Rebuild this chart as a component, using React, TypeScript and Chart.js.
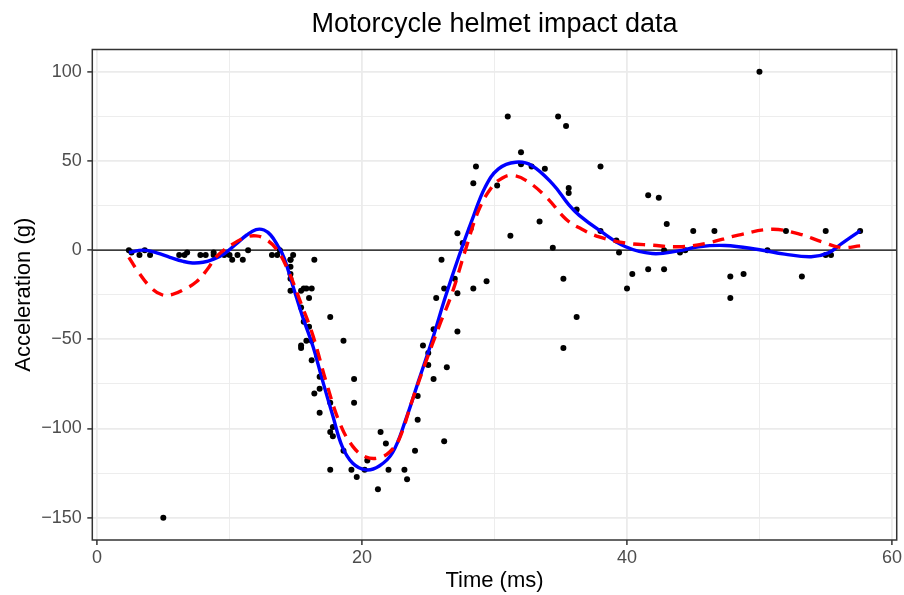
import React, { useEffect, useRef } from 'react';
import { Chart, registerables } from 'chart.js';

Chart.register(...registerables);

// mcycle data (times in ms, acceleration in g)
const times = [
  2.4, 2.6, 3.2, 3.6, 4.0, 6.2, 6.6, 6.8, 7.8, 8.2, 8.8, 8.8, 9.6, 10.0, 10.2, 10.6, 11.0, 11.4,
  13.2, 13.6, 13.8, 14.6, 14.6, 14.6, 14.6, 14.6, 14.6, 14.8, 15.4, 15.4, 15.4, 15.4, 15.6, 15.6,
  15.8, 15.8, 16.0, 16.0, 16.2, 16.2, 16.2, 16.4, 16.4, 16.6, 16.8, 16.8, 16.8, 17.6, 17.6, 17.6,
  17.6, 17.8, 17.8, 18.6, 18.6, 19.2, 19.4, 19.4, 19.6, 20.2, 20.4, 21.2, 21.4, 21.8, 22.0, 23.2,
  23.4, 24.0, 24.2, 24.2, 24.6, 25.0, 25.0, 25.4, 25.4, 25.6, 26.0, 26.2, 26.2, 26.4, 27.0, 27.2,
  27.2, 27.2, 27.6, 28.2, 28.4, 28.4, 28.6, 29.4, 30.2, 31.0, 31.2, 32.0, 32.0, 32.8, 33.4, 33.8,
  34.4, 34.8, 35.2, 35.2, 35.4, 35.6, 35.6, 36.2, 36.2, 38.0, 38.0, 39.2, 39.4, 40.0, 40.4, 41.6,
  41.6, 42.4, 42.8, 42.8, 43.0, 44.0, 44.4, 45.0, 46.6, 47.8, 47.8, 48.8, 50.6, 52.0, 53.2, 55.0,
  55.0, 55.4, 57.6,
];
const accel = [
  0.0, -1.3, -2.7, 0.0, -2.7, -2.7, -2.7, -1.3, -2.7, -2.7, -1.3, -2.7, -2.7, -2.7, -5.4, -2.7, -5.4, 0.0,
  -2.7, -2.7, 0.0, -13.3, -5.4, -5.4, -9.3, -16.0, -22.8, -2.7, -22.8, -32.1, -53.5, -54.9, -40.2, -21.5,
  -21.5, -50.8, -42.9, -26.8, -21.5, -50.8, -61.7, -5.4, -80.4, -59.0, -71.0, -91.1, -77.7, -37.5, -85.6, -123.1,
  -101.9, -99.1, -104.4, -112.5, -50.8, -123.1, -85.6, -72.3, -127.2, -123.1, -117.9, -134.0, -101.9, -108.4, -123.1, -123.1,
  -128.5, -112.5, -95.1, -81.8, -53.5, -64.4, -57.6, -72.3, -44.3, -26.8, -5.4, -107.1, -21.5, -65.6, -16.0, -45.6,
  -24.2, 9.5, 4.0, 12.0, -21.5, 37.5, 46.9, -17.4, 36.2, 75.0, 8.1, 54.9, 48.2, 46.9, 16.0, 45.6,
  1.3, 75.0, -16.0, -54.9, 69.6, 34.8, 32.1, -37.5, 22.8, 46.9, 10.7, 5.4, -1.3, -21.5, -13.3, 30.8,
  -10.7, 29.4, 0.0, -10.7, 14.7, -1.3, 0.0, 10.7, 10.7, -26.8, -14.7, -13.3, 0.0, 10.7, -14.7, -2.7,
  10.7, -2.7, 10.7,
];
// added outliers
const outlierTimes = [5.0, 50.0];
const outlierAccel = [-150, 100];

// robust fit (blue, solid)
const blueT = [2.4, 3.5, 4.5, 5.5, 6.5, 7.2, 8.0, 8.8, 9.6, 10.5, 11.3, 12.0, 12.6, 13.1, 13.6, 14.1, 14.8, 15.5, 16.3, 17.0, 17.8, 18.5, 19.3, 20.3, 21.3, 22.3, 23.3, 24.3, 25.3, 26.3, 27.3, 28.3, 29.3, 30.3, 31.6, 32.8, 34.4, 35.6, 36.4, 37.9, 39.9, 41.9, 43.9, 45.4, 47.4, 49.9, 51.9, 53.9, 55.2, 56.2, 57.6];
const blueY = [-1.3, 0, -1.5, -4, -6.3, -7.2, -6.8, -5, -2, 3.5, 8.5, 11.5, 11.3, 8.5, 3, -4, -20.5, -37, -54, -72.6, -93, -110, -119.5, -123.2, -121, -113.6, -95, -72.6, -50.3, -26, -3.7, 16.8, 35.4, 45.6, 49.3, 47.5, 37, 25.5, 19.5, 11.2, 1.9, -1.9, -0.4, 1.9, 2.6, 0.4, -2.2, -3.7, -1.5, 3.7, 10.8];

// loess-type fit (red, dashed)
const redT = [2.4, 3.0, 4.0, 4.9, 5.7, 6.5, 7.5, 8.3, 9.0, 10.3, 11.3, 12.0, 12.6, 13.5, 14.4, 15.4, 16.3, 17.3, 18.3, 19.3, 20.3, 21.3, 22.1, 22.8, 23.8, 24.8, 25.8, 26.8, 27.8, 28.8, 29.8, 30.6, 31.3, 32.4, 33.9, 35.4, 36.4, 37.9, 39.9, 41.9, 43.9, 45.9, 48.4, 50.9, 52.9, 54.7, 56.2, 57.6];
const redY = [-4, -11, -20.5, -25, -24.8, -22.3, -17.7, -11, -3.7, 3.7, 7.4, 8, 6.7, 1, -11, -30, -48, -74, -96.6, -110, -116, -116.4, -113, -106, -84, -63, -43, -24, 0, 22.3, 35.4, 40.5, 42, 39, 29.8, 17.3, 12.5, 7.4, 4, 2.8, 1.9, 3.7, 8.4, 11.7, 9.3, 4.7, 1.5, 2.4];

const xTicks = [0, 10, 20, 30, 40, 50, 60];
const xMajor = [0, 20, 40, 60];
const yTicks = [-150, -125, -100, -75, -50, -25, 0, 25, 50, 75, 100];
const yMajor = [-150, -100, -50, 0, 50, 100];

const FONT = "'Liberation Sans', Arial, Helvetica, sans-serif";

const panelPlugin = {
  id: 'panelDecor',
  beforeDatasetsDraw(chart: any) {
    const { ctx, chartArea, scales } = chart;
    const y0 = scales.y.getPixelForValue(0);
    ctx.save();
    ctx.strokeStyle = '#000000';
    ctx.lineWidth = 1.2;
    ctx.beginPath();
    ctx.moveTo(chartArea.left, y0);
    ctx.lineTo(chartArea.right, y0);
    ctx.stroke();
    ctx.restore();
  },
  afterDraw(chart: any) {
    const { ctx, chartArea } = chart;
    ctx.save();
    ctx.strokeStyle = '#333333';
    ctx.lineWidth = 1.5;
    ctx.strokeRect(chartArea.left, chartArea.top, chartArea.right - chartArea.left, chartArea.bottom - chartArea.top);
    ctx.restore();
  },
};

export default function App() {
  const ref = useRef<HTMLCanvasElement | null>(null);

  useEffect(() => {
    document.body.style.margin = '0';
    const canvas = ref.current;
    if (!canvas) return;

    const points = times.map((t, i) => ({ x: t, y: accel[i] }))
      .concat(outlierTimes.map((t, i) => ({ x: t, y: outlierAccel[i] })));
    const blue = blueT.map((t, i) => ({ x: t, y: blueY[i] }));
    const red = redT.map((t, i) => ({ x: t, y: redY[i] }));

    const chart = new Chart(canvas, {
      type: 'scatter',
      data: {
        datasets: [
          {
            label: 'loess',
            data: red,
            showLine: true,
            borderColor: '#FF0000',
            borderWidth: 3.4,
            borderDash: [12, 8],
            pointRadius: 0,
            tension: 0.4,
            fill: false,
            order: 1,
          },
          {
            label: 'robust',
            data: blue,
            showLine: true,
            borderColor: '#0000FF',
            borderWidth: 3.4,
            pointRadius: 0,
            tension: 0.4,
            fill: false,
            order: 2,
          },
          {
            label: 'data',
            data: points,
            pointRadius: 3,
            pointBackgroundColor: '#000000',
            pointBorderWidth: 0,
            showLine: false,
            order: 3,
          },
        ],
      },
      options: {
        animation: false,
        responsive: false,
        maintainAspectRatio: false,
        events: [],
        layout: { padding: { left: 0, right: 6.2, top: 0, bottom: 0 } },
        plugins: {
          legend: { display: false },
          tooltip: { enabled: false },
          title: {
            display: true,
            text: 'Motorcycle helmet impact data',
            color: '#000000',
            fullSize: false,
            font: { family: FONT, size: 27, weight: 'normal' },
            padding: { top: 8.3, bottom: 8.8 },
          },
        },
        scales: {
          x: {
            type: 'linear',
            min: -0.36,
            max: 60.36,
            afterBuildTicks: (s: any) => { s.ticks = xTicks.map((v) => ({ value: v })); },
            afterFit: (s: any) => { s.height = 55; },
            ticks: {
              autoSkip: false,
              maxRotation: 0,
              color: '#4D4D4D',
              font: { family: FONT, size: 18 },
              padding: 2,
              callback: (v: any) => (xMajor.includes(Number(v)) ? String(v) : ''),
            },
            grid: {
              color: '#EBEBEB',
              lineWidth: (c: any) => (xMajor.includes(c.tick?.value) ? 1.8 : 0.9),
              tickLength: 5,
              tickColor: (c: any) => (xMajor.includes(c.tick?.value) ? '#333333' : 'rgba(0,0,0,0)'),
              tickWidth: 1.5,
            },
            border: { display: false },
            title: {
              display: true,
              text: 'Time (ms)',
              color: '#000000',
              font: { family: FONT, size: 22 },
              padding: { top: 0, bottom: 1.3 },
            },
          },
          y: {
            type: 'linear',
            min: -162.5,
            max: 112.5,
            afterBuildTicks: (s: any) => { s.ticks = yTicks.map((v) => ({ value: v })); },
            afterFit: (s: any) => { s.width = 92.3; },
            ticks: {
              autoSkip: false,
              color: '#4D4D4D',
              font: { family: FONT, size: 18 },
              padding: 5.5,
              callback: (v: any) => {
                const n = Number(v);
                if (!yMajor.includes(n)) return '';
                return n < 0 ? '\u2212' + Math.abs(n) : String(n);
              },
            },
            grid: {
              color: '#EBEBEB',
              lineWidth: (c: any) => (yMajor.includes(c.tick?.value) ? 1.8 : 0.9),
              tickLength: 5,
              tickColor: (c: any) => (yMajor.includes(c.tick?.value) ? '#333333' : 'rgba(0,0,0,0)'),
              tickWidth: 1.5,
            },
            border: { display: false },
            title: {
              display: true,
              text: 'Acceleration (g)',
              color: '#000000',
              font: { family: FONT, size: 22 },
              padding: { top: 10.3, bottom: 0 },
            },
          },
        },
      },
      plugins: [panelPlugin],
    } as any);

    return () => chart.destroy();
  }, []);

  return (
    <canvas ref={ref} width={904} height={595} style={{ display: 'block', width: 904, height: 595 }} />
  );
}
